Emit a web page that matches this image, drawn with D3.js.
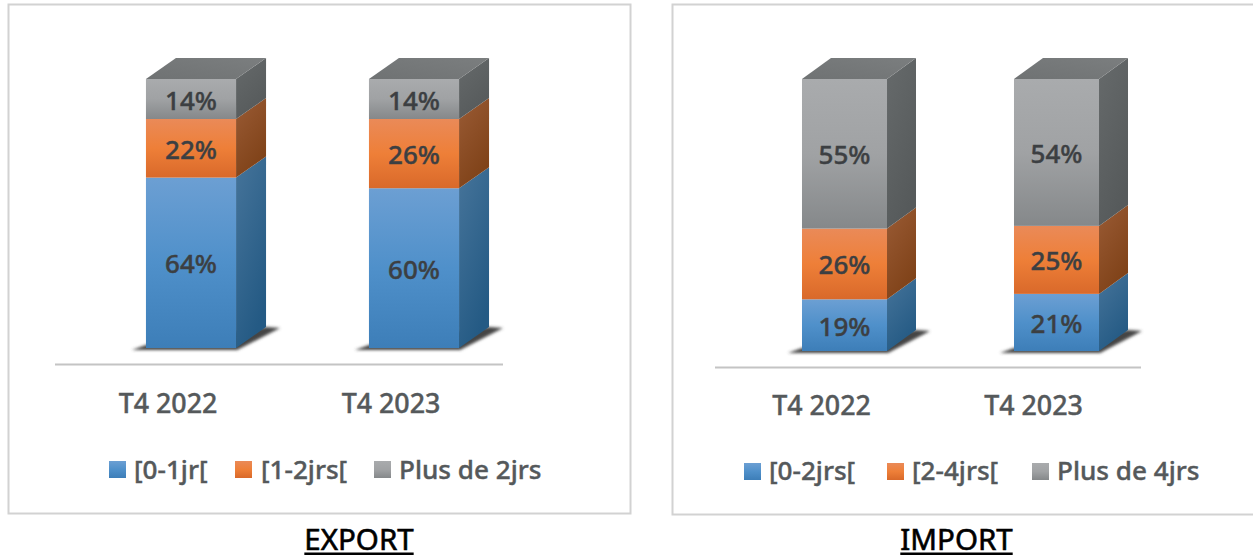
<!DOCTYPE html>
<html><head><meta charset="utf-8">
<script src="https://cdnjs.cloudflare.com/ajax/libs/d3/7.8.5/d3.min.js"></script>
<style>html,body{margin:0;padding:0;background:#fff;overflow:hidden}svg{display:block}text{font-family:"Noto Sans","Open Sans",sans-serif}</style>
</head><body><svg id="c" width="1253" height="555"></svg>
<script>
const periods = ["T4 2022","T4 2023"];
const exportSeries = ["[0-1jr[","[1-2jrs[","Plus de 2jrs"];
const exportValues = [[64,60],[22,26],[14,14]];
const importSeries = ["[0-2jrs[","[2-4jrs[","Plus de 4jrs"];
const importValues = [[19,21],[26,25],[55,54]];
const titles = ["EXPORT","IMPORT"];

const svg = d3.select("#c");
const defs = svg.append("defs");
const pal = [
 {n:"b",f:["#6c9fd3","#4f90ca","#3d7eb8"],s:["#46749a","#245a84"]},
 {n:"o",f:["#ea8a58","#ee7f38","#d9692a"],s:["#9a5b35","#7f4218"]},
 {n:"g",f:["#a9abad","#a0a2a4","#85888a"],s:["#666a6b","#565a5b"]}
];
pal.forEach(p=>{
  const g=defs.append("linearGradient").attr("id","f"+p.n).attr("x1",0).attr("x2",0).attr("y1",0).attr("y2",1);
  p.f.forEach((c,i)=>g.append("stop").attr("offset",i/2).attr("stop-color",c));
  const s=defs.append("linearGradient").attr("id","s"+p.n).attr("x1",0).attr("x2",0.5).attr("y1",0).attr("y2",1);
  p.s.forEach((c,i)=>s.append("stop").attr("offset",i).attr("stop-color",c));
});
const tg=defs.append("linearGradient").attr("id","top").attr("x1",0).attr("x2",1).attr("y1",1).attr("y2",0);
tg.append("stop").attr("offset",0).attr("stop-color","#6f7273");
tg.append("stop").attr("offset",1).attr("stop-color","#7b7e7f");
defs.append("filter").attr("id","blur").attr("x","-20%").attr("y","-50%").attr("width","140%").attr("height","200%")
  .append("feGaussianBlur").attr("stdDeviation",1.8);

const panels = [
 {series:exportSeries,values:exportValues,title:titles[0],frame:[8.5,4.5,622,509],xr:[79.5,525.5],inner:0.596,yd:[0,86,100],yr:[348,119,79],dx:30,dy:21,
  axis:[55,503,364.5],catY:413,titleX:359,legY:469,legDy:10,leg:[[109,134],[235,261],[374,399]]},
 {series:importSeries,values:importValues,title:titles[1],frame:[672.5,4.5,590,510],xr:[738.5,1162.5],inner:0.599,yd:[0,100],yr:[351,79],dx:29,dy:21,
  axis:[715,1141,367.5],catY:415,titleX:956.5,legY:471,legDy:9,leg:[[744,769],[887,912],[1032,1057]]}
];

panels.forEach(P=>{
  const g=svg.append("g");
  g.append("rect").attr("x",P.frame[0]).attr("y",P.frame[1]).attr("width",P.frame[2]).attr("height",P.frame[3])
    .attr("fill","#fff").attr("stroke","#d2d2d2").attr("stroke-width",2);
  const x=d3.scaleBand().domain(periods).range(P.xr).paddingInner(P.inner).paddingOuter(P.inner/2);
  const y=d3.scaleLinear().domain(P.yd).range(P.yr);
  const stack=d3.stack().keys(d3.range(3)).value((d,k)=>P.values[k][d]);
  const layers=stack(d3.range(periods.length));
  g.append("line").attr("x1",P.axis[0]).attr("x2",P.axis[1]).attr("y1",P.axis[2]).attr("y2",P.axis[2])
    .attr("stroke","#c4c4c4").attr("stroke-width",2);
  const w=x.bandwidth();
  periods.forEach(per=>{
    const x0=x(per), yb=y(0);
    g.append("polygon").attr("filter","url(#blur)").attr("fill","#444")
      .attr("points",[[x0-14,yb+2],[x0+w+1,yb+2],[x0+w+P.dx+14,yb-P.dy+1],[x0+w+P.dx,yb-P.dy],[x0,yb-3]].map(p=>p.join(",")).join(" "));
  });
  layers.forEach((l,k)=>{
    const p=pal[k];
    periods.forEach((per,i)=>{
      const x0=x(per), y0=y(l[i][0]), y1=y(l[i][1]);
      g.append("polygon").attr("fill",`url(#s${p.n})`)
        .attr("points",[[x0+w,y0],[x0+w+P.dx,y0-P.dy],[x0+w+P.dx,y1-P.dy],[x0+w,y1]].map(q=>q.join(",")).join(" "));
      g.append("rect").attr("x",x0).attr("y",y1).attr("width",w).attr("height",y0-y1).attr("fill",`url(#f${p.n})`);
      if(k===2) g.append("polygon").attr("fill","url(#top)")
        .attr("points",[[x0,y1],[x0+P.dx,y1-P.dy],[x0+w+P.dx,y1-P.dy],[x0+w,y1]].map(q=>q.join(",")).join(" "));
    });
  });
  layers.forEach((l,k)=>periods.forEach((per,i)=>{
    g.append("text").attr("x",x(per)+w/2).attr("y",(y(l[i][0])+y(l[i][1]))/2+10.5)
      .attr("text-anchor","middle").attr("font-size",26).attr("font-weight",500).attr("fill","#3c3f42")
      .attr("stroke","#3c3f42").attr("stroke-width",0.4).text(P.values[k][i]+"%");
  }));
  periods.forEach(per=>g.append("text").attr("x",x(per)+w/2-23).attr("y",P.catY).attr("text-anchor","middle")
    .attr("font-size",26.8).attr("font-weight",500).attr("fill","#55595b")
    .attr("stroke","#55595b").attr("stroke-width",0.4).text(per));
  P.series.forEach((s,k)=>{
    g.append("rect").attr("x",P.leg[k][0]).attr("y",P.legY-8).attr("width",17).attr("height",17).attr("fill",`url(#f${pal[k].n})`);
    g.append("text").attr("x",P.leg[k][1]).attr("y",P.legY+P.legDy).attr("font-size",26.1).attr("font-weight",500).attr("fill","#55595b")
      .attr("stroke","#55595b").attr("stroke-width",0.4).text(s);
  });
  const t=g.append("text").attr("x",P.titleX).attr("y",550).attr("text-anchor","middle").attr("font-size",29.5).attr("font-weight",400).attr("fill","#000")
    .attr("stroke","#000").attr("stroke-width",0.6).text(P.title);
  const len=t.node().getComputedTextLength();
  g.append("line").attr("x1",P.titleX-len/2).attr("x2",P.titleX+len/2).attr("y1",553.8).attr("y2",553.8).attr("stroke","#000").attr("stroke-width",2.4);
});
</script></body></html>
